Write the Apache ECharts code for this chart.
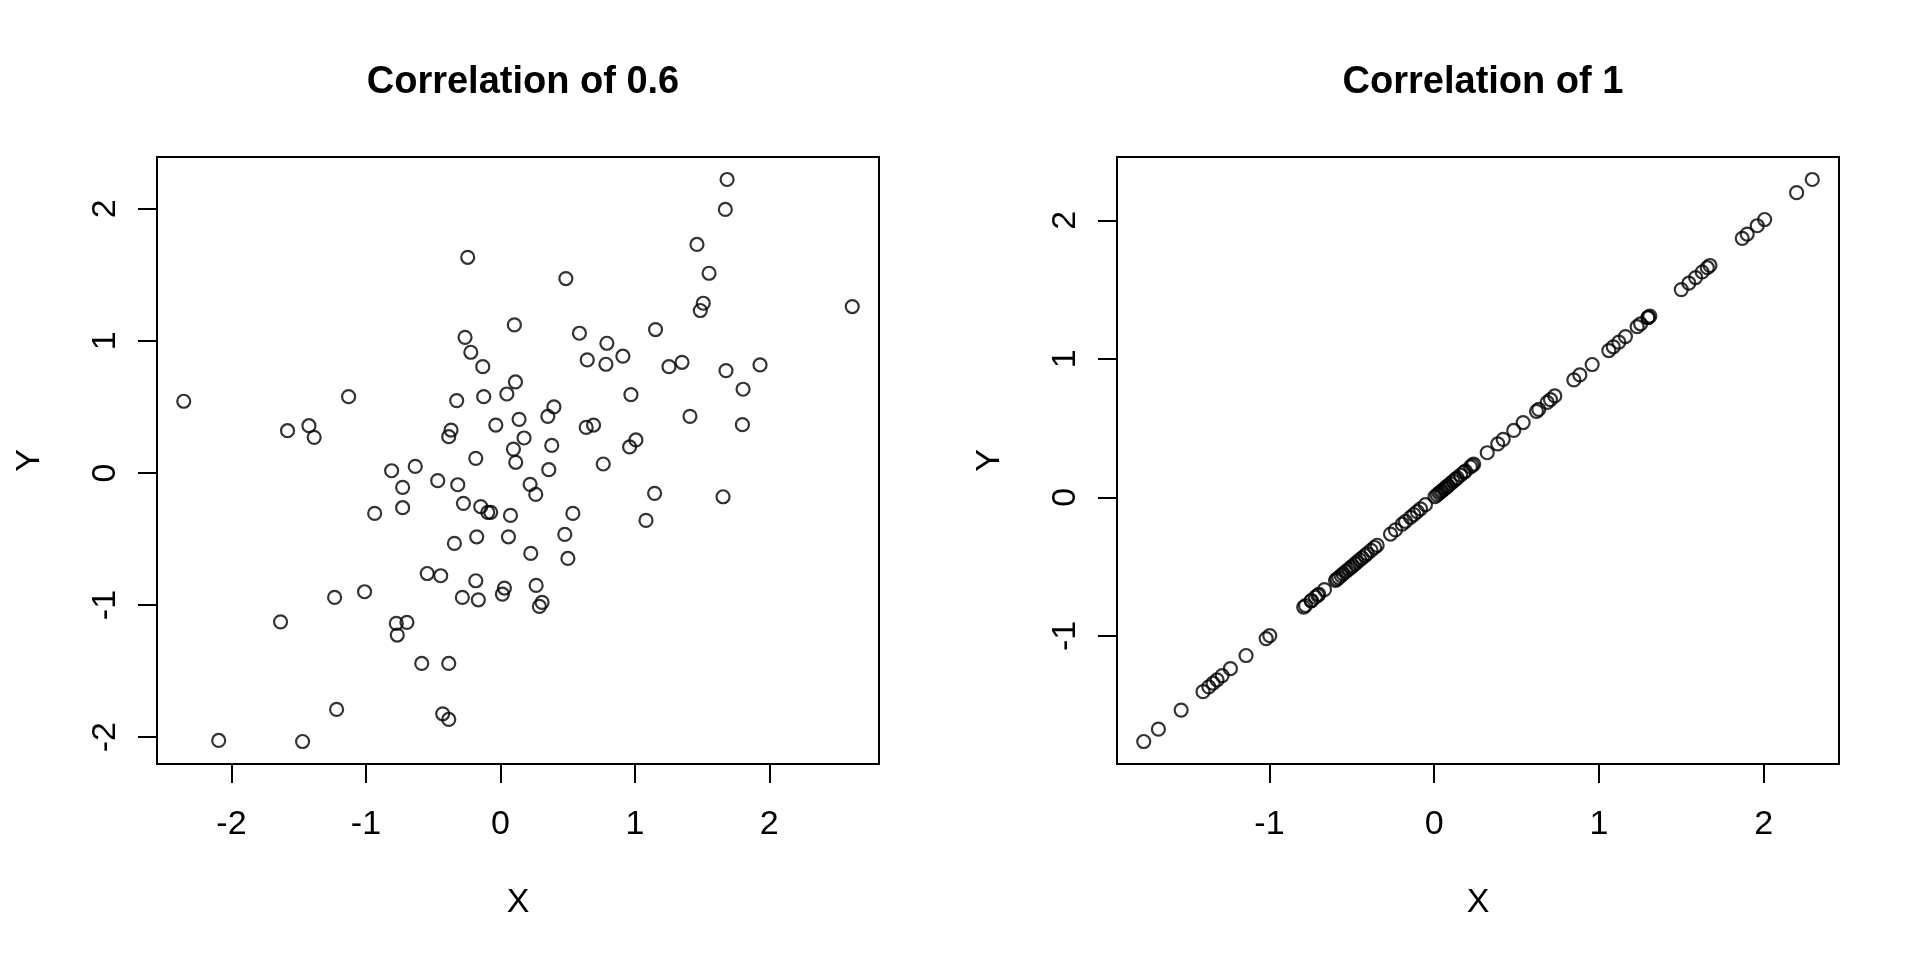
<!DOCTYPE html>
<html>
<head>
<meta charset="utf-8">
<script src="https://cdn.jsdelivr.net/npm/echarts@6/dist/echarts.min.js"></script>
<style>
html,body{margin:0;padding:0;background:#fff;}
#chart{width:1920px;height:960px;}
</style>
</head>
<body>
<div id="chart"></div>
<script>
// Left panel: correlation of 0.6
var leftX = [
 -0.243,-0.263,-0.22,-0.131,0.048,-0.124,-0.325,-1.129,-2.355,-1.583,-1.424,-1.385,-0.367,-0.384,-0.034,-0.183,0.097,0.114,
 1.686,1.673,1.462,1.552,1.509,1.487,2.617,0.487,0.104,0.588,1.154,0.792,0.646,0.785,0.911,1.254,1.351,1.678,1.931,0.112,
 1.805,0.971,0.398,0.353,0.139,1.410,0.638,0.693,1.80,0.176,0.382,1.008,0.961,0.765,
 -0.809,-0.633,-0.466,-0.317,-0.727,-0.727,-0.935,-0.275,-0.146,-0.094,-0.072,0.075,-0.176,0.060,-0.342,-0.544,-0.444,-0.183,
 0.030,0.015,-0.283,-0.164,-1.233,-1.010,-1.635,-0.774,-0.695,-0.767,-0.585,-0.384,-1.218,-0.429,-0.384,-2.095,-1.471,
 0.360,0.221,0.263,1.147,1.656,0.539,1.083,0.479,0.226,0.502,0.266,0.31,0.29
];
var leftY = [
 1.633,1.027,0.914,0.805,0.598,0.578,0.548,0.578,0.543,0.320,0.358,0.270,0.325,0.275,0.363,0.111,0.181,0.081,
 2.222,1.995,1.730,1.512,1.285,1.230,1.260,1.472,1.121,1.058,1.086,0.982,0.856,0.823,0.884,0.805,0.838,0.775,0.818,0.689,
 0.634,0.593,0.50,0.429,0.406,0.429,0.345,0.363,0.366,0.265,0.209,0.25,0.197,0.068,
 0.017,0.05,-0.058,-0.089,-0.109,-0.263,-0.306,-0.230,-0.255,-0.298,-0.298,-0.321,-0.483,-0.483,-0.533,-0.761,-0.778,-0.816,
 -0.871,-0.917,-0.942,-0.960,-0.942,-0.899,-1.127,-1.139,-1.131,-1.227,-1.442,-1.442,-1.790,-1.823,-1.866,-2.025,-2.033,
 0.025,-0.086,-0.162,-0.154,-0.180,-0.306,-0.359,-0.465,-0.609,-0.647,-0.851,-0.980,-1.010
];
// Right panel: correlation of 1
var rightX = [
 -1.763,-1.674,-1.536,-1.403,-1.368,-1.342,-1.318,-1.287,-1.237,-1.142,-1.020,-0.998,
 -0.792,-0.781,-0.747,-0.745,-0.721,-0.707,-0.70,-0.666,
 -0.599,-0.59,-0.579,-0.565,-0.553,-0.535,-0.518,-0.505,-0.494,-0.48,-0.468,-0.452,-0.437,-0.42,-0.407,-0.383,-0.362,-0.346,
 -0.265,-0.235,-0.194,-0.174,-0.144,-0.124,-0.103,-0.083,-0.053,
 0.005,0.018,0.030,0.04,0.049,0.060,0.069,0.079,0.085,0.099,0.115,0.129,0.140,0.160,0.180,0.190,0.22,0.231,0.24,
 0.322,0.386,0.419,0.483,0.540,0.621,0.635,0.686,0.706,0.732,0.848,0.884,0.959,
 1.060,1.087,1.121,1.161,1.232,1.253,1.297,1.30,1.309,
 1.500,1.546,1.587,1.627,1.658,1.674,
 1.870,1.900,1.961,2.006,2.200,2.295
];
var rightY = [
 -1.763,-1.674,-1.536,-1.403,-1.368,-1.342,-1.318,-1.287,-1.237,-1.142,-1.020,-0.998,
 -0.792,-0.781,-0.747,-0.745,-0.721,-0.707,-0.70,-0.666,
 -0.599,-0.59,-0.579,-0.565,-0.553,-0.535,-0.518,-0.505,-0.494,-0.48,-0.468,-0.452,-0.437,-0.42,-0.407,-0.383,-0.362,-0.346,
 -0.265,-0.235,-0.194,-0.174,-0.144,-0.124,-0.103,-0.083,-0.053,
 0.005,0.018,0.030,0.04,0.049,0.060,0.069,0.079,0.085,0.099,0.115,0.129,0.140,0.160,0.180,0.190,0.22,0.231,0.24,
 0.322,0.386,0.419,0.483,0.540,0.621,0.635,0.686,0.706,0.732,0.848,0.884,0.959,
 1.060,1.087,1.121,1.161,1.232,1.253,1.297,1.30,1.309,
 1.500,1.546,1.587,1.627,1.658,1.674,
 1.870,1.900,1.961,2.006,2.200,2.295
];
var titles = ["Correlation of 0.6", "Correlation of 1"];
var leftXTicks = [-2,-1,0,1,2];
var leftYTicks = [-2,-1,0,1,2];
var rightXTicks = [-1,0,1,2];
var rightYTicks = [-1,0,1,2];
var xName = "X", yName = "Y";

function rng(a){
  var mn = Math.min.apply(null,a), mx = Math.max.apply(null,a);
  var p = (mx-mn)*0.04;
  return [mn-p, mx+p];
}
function pairs(xs, ys){ return xs.map(function(v,i){return [v, ys[i]];}); }

var FONT = "Liberation Sans, Arial, sans-serif";
function xAxisCfg(idx, r, ticks){
  return {
    type:'value', gridIndex:idx, min:r[0], max:r[1], position:'bottom',
    splitLine:{show:false}, axisLine:{show:false, onZero:false},
    axisTick:{show:true, length:19, lineStyle:{color:'#000', width:2}, customValues:ticks},
    axisLabel:{show:true, customValues:ticks, color:'#000', fontSize:34, fontFamily:FONT, margin:44},
    name:xName, nameLocation:'middle', nameGap:122,
    nameTextStyle:{color:'#000', fontSize:34, fontFamily:FONT}
  };
}
function yAxisCfg(idx, r, ticks){
  return {
    type:'value', gridIndex:idx, min:r[0], max:r[1], position:'left',
    splitLine:{show:false}, axisLine:{show:false, onZero:false},
    axisTick:{show:true, length:19, lineStyle:{color:'#000', width:2}, customValues:ticks},
    axisLabel:{show:true, customValues:ticks, color:'#000', fontSize:34, fontFamily:FONT, margin:34, rotate:90},
    name:yName, nameLocation:'middle', nameGap:110, nameRotate:90,
    nameTextStyle:{color:'#000', fontSize:34, fontFamily:FONT}
  };
}
var symStyle = {color:'rgba(0,0,0,0)', borderColor:'#000', borderWidth:2.2};

var chart = echarts.init(document.getElementById('chart'));
chart.setOption({
  animation:false,
  backgroundColor:'#fff',
  title:[
    {text:titles[0], left:518, top:59, textAlign:'center',
     textStyle:{fontSize:38, fontWeight:'bold', color:'#000', fontFamily:FONT}},
    {text:titles[1], left:1478, top:59, textAlign:'center',
     textStyle:{fontSize:38, fontWeight:'bold', color:'#000', fontFamily:FONT}}
  ],
  grid:[
    {left:157, top:157, width:722, height:607, show:true, borderColor:'#000', borderWidth:2, backgroundColor:'rgba(0,0,0,0)'},
    {left:1117, top:157, width:722, height:607, show:true, borderColor:'#000', borderWidth:2, backgroundColor:'rgba(0,0,0,0)'}
  ],
  xAxis:[ xAxisCfg(0, rng(leftX), leftXTicks), xAxisCfg(1, rng(rightX), rightXTicks) ],
  yAxis:[ yAxisCfg(0, rng(leftY), leftYTicks), yAxisCfg(1, rng(rightY), rightYTicks) ],
  series:[
    {type:'scatter', xAxisIndex:0, yAxisIndex:0, data:pairs(leftX,leftY), symbol:'circle', symbolSize:13, itemStyle:symStyle, emphasis:{disabled:true}, silent:true},
    {type:'scatter', xAxisIndex:1, yAxisIndex:1, data:pairs(rightX,rightY), symbol:'circle', symbolSize:13, itemStyle:symStyle, emphasis:{disabled:true}, silent:true}
  ]
});
</script>
</body>
</html>
